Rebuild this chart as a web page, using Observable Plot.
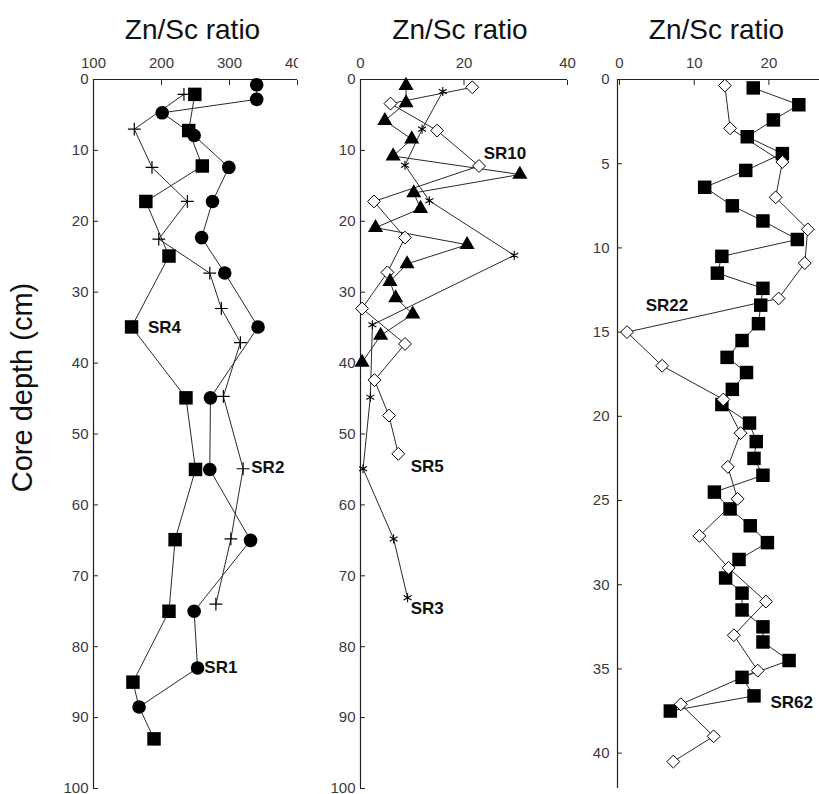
<!DOCTYPE html>
<html>
<head>
<meta charset="utf-8">
<script src="https://cdn.jsdelivr.net/npm/d3@7"></script>
<script src="https://cdn.jsdelivr.net/npm/@observablehq/plot@0.6"></script>
<style>
  body { margin: 0; background: #fff; }
  #wrap { position: relative; width: 819px; height: 794px; overflow: hidden; background: #fff; }
</style>
</head>
<body>
<div id="wrap"></div>
<script>
// ---------- Panel 1 (x: 100–400) ----------
const p1Ticks = [100, 200, 300, 400];
const p1DepthTicks = [0, 10, 20, 30, 40, 50, 60, 70, 80, 90, 100];

const sr1Depth = [0.75, 2.8, 4.7, 7.9, 12.4, 17.2, 22.3, 27.3, 34.9, 44.9, 55, 65, 75, 83, 88.5];
const sr1Value = [340, 340, 201, 248, 299, 275, 259, 293, 342, 272, 271, 331, 248, 253, 167];

const sr2Depth = [2.1, 7, 12.4, 17.2, 22.5, 27.3, 32.3, 37.1, 44.7, 54.9, 64.8, 74];
const sr2Value = [233, 160, 186, 238, 196, 271, 288, 316, 291, 320, 302, 280];

const sr4Depth = [2.1, 7.2, 12.2, 17.2, 24.9, 34.9, 44.9, 55, 64.9, 75, 85, 88.5, 93];
const sr4Value = [249, 240, 260, 177, 211, 156, 236, 250, 220, 211, 158, 167, 189];
const sr4Marked = [true, true, true, true, true, true, true, true, true, true, true, false, true];

const p1Labels = ["SR4", "SR2", "SR1"];
const p1LabelValue = [180, 332, 263];
const p1LabelDepth = [35, 54.7, 82.9];

// ---------- Panel 2 (x: 0–40) ----------
const p2Ticks = [0, 20, 40];
const p2DepthTicks = [0, 10, 20, 30, 40, 50, 60, 70, 80, 90, 100];

const sr10Depth = [0.85, 3.3, 5.8, 8.4, 10.8, 13.4, 16.0, 18.2, 20.9, 23.3, 26.0, 28.5, 30.8, 33.1, 36.1, 39.9];
const sr10Value = [8.8, 8.8, 4.7, 9.9, 6.3, 30.8, 10.3, 11.6, 2.9, 20.6, 9.0, 5.7, 6.8, 10.1, 3.9, 0.3];

const sr5Depth = [1.1, 3.4, 7.2, 12.2, 17.2, 22.3, 27.2, 32.3, 37.3, 42.4, 47.4, 52.8];
const sr5Value = [21.6, 5.8, 14.8, 22.9, 2.6, 8.6, 5.2, 0.3, 8.6, 2.7, 5.5, 7.3];

const sr3Depth = [1.7, 7, 12.1, 17.1, 24.8, 34.6, 44.8, 54.9, 64.8, 73.1];
const sr3Value = [15.9, 11.9, 8.6, 13.3, 29.7, 2.3, 1.9, 0.5, 6.4, 9.1];

const p2Labels = ["SR10", "SR5", "SR3"];
const p2LabelValue = [23.8, 9.7, 9.7];
const p2LabelDepth = [10.4, 54.6, 74.6];

// ---------- Panel 3 (x: 0–27) ----------
const p3Ticks = [0, 10, 20];
const p3DepthTicks = [0, 5, 10, 15, 20, 25, 30, 35, 40];

const sr62Depth = [0.5, 1.5, 2.4, 3.4, 4.4, 5.4, 6.4, 7.5, 8.4, 9.5, 10.5, 11.5, 12.4, 13.4, 14.5, 15.5, 16.5, 17.4, 18.4, 19.3,
  20.4, 21.5, 22.5, 23.5, 24.5, 25.5, 26.5, 27.5, 28.5, 29.6, 30.5, 31.5, 32.5, 33.4, 34.5, 35.5, 36.6, 37.5];
const sr62Value = [17.9, 24.0, 20.6, 17.1, 21.8, 16.9, 11.4, 15.1, 19.2, 23.8, 13.7, 13.1, 19.2, 18.9, 18.6, 16.4, 14.4, 17.0, 15.1, 13.7,
  17.4, 18.3, 18.0, 19.2, 12.7, 14.8, 17.5, 19.8, 16.0, 14.2, 16.4, 16.4, 19.2, 19.2, 22.7, 16.4, 18.0, 6.8];

const sr22Depth = [0.36, 2.9, 4.9, 7.0, 8.9, 10.9, 13.0, 15.0, 17.0, 19.0, 21.0, 23.0, 24.9, 27.1, 29.0, 31.0, 33.0, 35.1, 37.1, 39.0, 40.5];
const sr22Value = [14.1, 14.8, 21.8, 20.9, 25.2, 24.8, 21.3, 1.0, 5.7, 13.9, 16.2, 14.5, 15.8, 10.7, 14.6, 19.6, 15.3, 18.5, 8.2, 12.6, 7.2];

const p3Labels = ["SR22", "SR62"];
const p3LabelValue = [3.5, 20.2];
const p3LabelDepth = [13.4, 37.0];

const xTitle = "Zn/Sc ratio";
const yTitle = "Core depth (cm)";

// ---------- helpers ----------
const rows = (depth, value, extra) => depth.map((d, i) => ({depth: d, value: value[i], ...(extra ? {marked: extra[i]} : {})}));
const labelRows = (t, v, d) => t.map((s, i) => ({text: s, value: v[i], depth: d[i]}));

const FONT = "Arial, 'Liberation Sans', sans-serif";
const LINE = {x: "value", y: "depth", stroke: "#2a2a2a", strokeWidth: 1};

function panel({width, marginLeft, marginRight, xDomain, xTicks, yDomain, yTicks, yPad, titleDx, series, labels, extra = []}) {
  return Plot.plot({
    width, height: 794,
    marginTop: 79, marginBottom: 6, marginLeft, marginRight,
    x: {domain: xDomain},
    y: {domain: yDomain, reverse: true},
    marks: [
      Plot.ruleY([yDomain[0]], {stroke: "#222", strokeWidth: 1.2}),
      Plot.ruleX([xDomain[0]], {stroke: "#222", strokeWidth: 1.2}),
      Plot.axisX(xTicks, {anchor: "top", tickSize: -5, tickPadding: 17, fontSize: 15, fill: "#3a3a3a", stroke: "#222", label: null}),
      Plot.axisY(yTicks, {anchor: "left", tickSize: -5, tickPadding: yPad, fontSize: 15, fill: "#3a3a3a", stroke: "#222", label: null}),
      ...series,
      Plot.text(labels, {x: "value", y: "depth", text: "text", textAnchor: "start", fontSize: 17, fontWeight: "bold", fill: "#111"}),
      Plot.text([xTitle], {text: d => d, frameAnchor: "top", textAnchor: "middle", dx: titleDx, dy: -41, lineAnchor: "bottom", fontSize: 28, fill: "#111"}),
      ...extra
    ]
  });
}

// ---------- panel 1 ----------
const sr1 = rows(sr1Depth, sr1Value);
const sr2 = rows(sr2Depth, sr2Value);
const sr4 = rows(sr4Depth, sr4Value, sr4Marked);

const svg1 = panel({
  width: 298, marginLeft: 93, marginRight: 1,
  xDomain: [100, 400], xTicks: p1Ticks,
  yDomain: [0, 100], yTicks: p1DepthTicks, yPad: 10, titleDx: -3,
  series: [
    Plot.line(sr2, LINE),
    Plot.line(sr4, LINE),
    Plot.line(sr1, LINE),
    Plot.dot(sr2, {x: "value", y: "depth", symbol: "plus", r: 4.2, stroke: "#000", fill: "none", strokeWidth: 1.2}),
    Plot.dot(sr4.filter(d => d.marked), {x: "value", y: "depth", symbol: "square", r: 7.6, fill: "#000", stroke: "none"}),
    Plot.dot(sr1, {x: "value", y: "depth", symbol: "circle", r: 6.8, fill: "#000", stroke: "none"})
  ],
  labels: labelRows(p1Labels, p1LabelValue, p1LabelDepth),
  extra: [
    Plot.text([yTitle], {text: d => d, frameAnchor: "left", textAnchor: "middle", lineAnchor: "middle", rotate: -90, dx: -70.5, dy: -46.5, fontSize: 29, fill: "#111"})
  ]
});

// ---------- panel 2 ----------
const sr10 = rows(sr10Depth, sr10Value);
const sr5 = rows(sr5Depth, sr5Value);
const sr3 = rows(sr3Depth, sr3Value);

const svg2 = panel({
  width: 270, marginLeft: 60, marginRight: 3,
  xDomain: [0, 40], xTicks: p2Ticks,
  yDomain: [0, 100], yTicks: p2DepthTicks, yPad: 10, titleDx: -4,
  series: [
    Plot.line(sr3, LINE),
    Plot.line(sr5, LINE),
    Plot.line(sr10, LINE),
    Plot.dot(sr3, {x: "value", y: "depth", symbol: "asterisk", r: 4.3, stroke: "#000", fill: "none", strokeWidth: 1.1}),
    Plot.dot(sr5, {x: "value", y: "depth", symbol: "diamond2", r: 5.8, stroke: "#000", fill: "#fff", strokeWidth: 1}),
    Plot.dot(sr10, {x: "value", y: "depth", symbol: "triangle", r: 5.6, fill: "#000", stroke: "none"})
  ],
  labels: labelRows(p2Labels, p2LabelValue, p2LabelDepth)
});

// ---------- panel 3 ----------
const sr62 = rows(sr62Depth, sr62Value);
const sr22 = rows(sr22Depth, sr22Value);

const svg3 = panel({
  width: 249, marginLeft: 47, marginRight: 0,
  xDomain: [-0.27, 26.77], xTicks: p3Ticks,
  yDomain: [0, 42.1], yTicks: p3DepthTicks, yPad: 13, titleDx: -2,
  series: [
    Plot.line(sr22, LINE),
    Plot.line(sr62, LINE),
    Plot.dot(sr62, {x: "value", y: "depth", symbol: "square", r: 7.6, fill: "#000", stroke: "none"}),
    Plot.dot(sr22, {x: "value", y: "depth", symbol: "diamond2", r: 5.8, stroke: "#000", fill: "#fff", strokeWidth: 1})
  ],
  labels: labelRows(p3Labels, p3LabelValue, p3LabelDepth)
});

const wrap = document.getElementById("wrap");
[[svg1, 0, "hidden"], [svg3, 570, "visible"], [svg2, 300, "visible"]].forEach(([svg, left, ov]) => {
  svg.setAttribute("style",
    `position:absolute;top:0;left:${left}px;background:transparent;overflow:${ov};max-width:none;font-family:${FONT};`);
  wrap.appendChild(svg);
});
</script>
</body>
</html>
